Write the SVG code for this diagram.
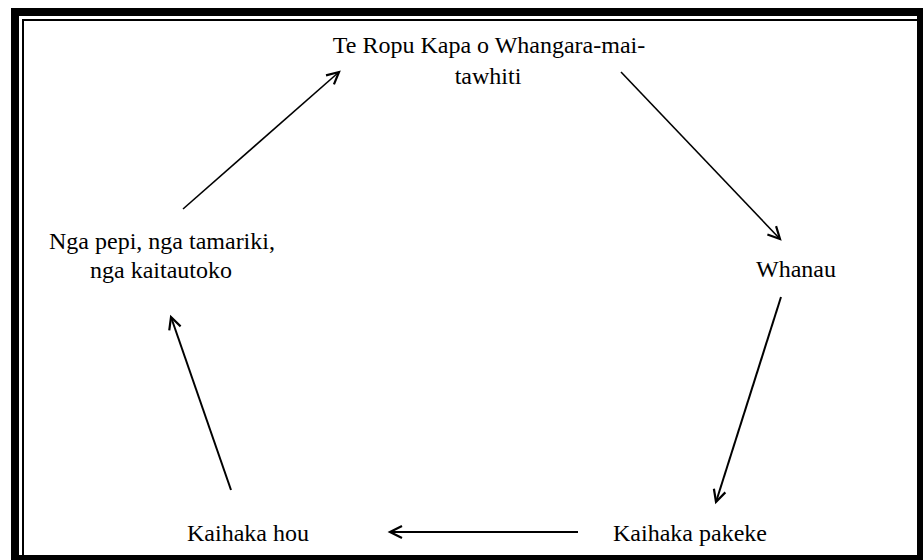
<svg xmlns="http://www.w3.org/2000/svg" width="923" height="560" viewBox="0 0 923 560">
<style>
  .lbl { font-family: 'Liberation Serif', 'Times New Roman', Times, serif; font-size: 24px; fill: #000; text-anchor: middle; }
  .conn { stroke: #000; stroke-width: 2; fill: none; marker-end: url(#arrow); }
  .thin { stroke-width: 1.6; }
</style>
<defs>
  <marker id="arrow" markerUnits="userSpaceOnUse" markerWidth="16" markerHeight="16" refX="13" refY="7" orient="auto" viewBox="0 0 16 14">
    <path d="M1,1 L13,7 L1,13" fill="none" stroke="#000" stroke-width="2.2"/>
  </marker>
</defs>
<rect x="0" y="0" width="923" height="560" fill="#fff"/>
<g id="frame">
  <rect x="15" y="12" width="906" height="547" fill="none" stroke="#000" stroke-width="8"/>
  <path d="M23,560 V20 H923" fill="none" stroke="#000" stroke-width="2"/>
</g>
<g id="connectors">
  <line class="conn thin" x1="183" y1="209" x2="339" y2="72"/>
  <line class="conn thin" x1="621" y1="72" x2="780" y2="239"/>
  <line class="conn" x1="781" y1="297" x2="716" y2="502"/>
  <line class="conn" x1="578" y1="532" x2="390" y2="532"/>
  <line class="conn" x1="231" y1="490" x2="171" y2="317"/>
</g>
<g id="node-te-ropu" class="lbl">
  <text x="489" y="53">Te Ropu Kapa o Whangara-mai-</text>
  <text x="488" y="84">tawhiti</text>
</g>
<g id="node-whanau" class="lbl">
  <text x="796" y="277">Whanau</text>
</g>
<g id="node-kaihaka-pakeke" class="lbl">
  <text x="690" y="541">Kaihaka pakeke</text>
</g>
<g id="node-kaihaka-hou" class="lbl">
  <text x="248" y="541">Kaihaka hou</text>
</g>
<g id="node-nga-pepi" class="lbl">
  <text x="162" y="249">Nga pepi, nga tamariki,</text>
  <text x="161" y="278">nga kaitautoko</text>
</g>
</svg>
